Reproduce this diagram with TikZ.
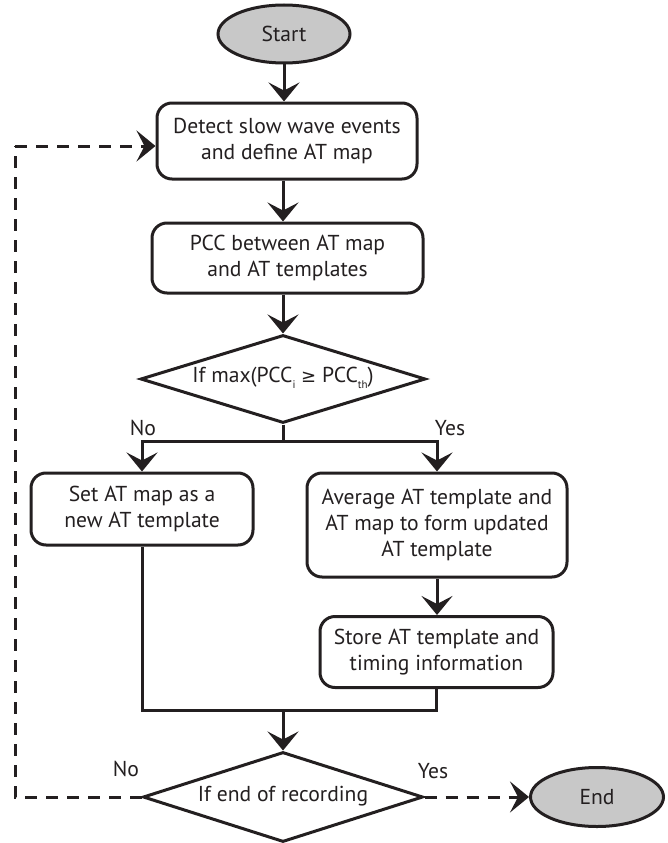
\documentclass[tikz,border=0pt]{standalone}
\usepackage{fontspec}
\setmainfont{PT Sans}
\newfontfamily\symf{DejaVu Sans}
\usetikzlibrary{arrows.meta,shapes.geometric}
\definecolor{termgray}{RGB}{200,200,200}
\definecolor{ink}{RGB}{35,31,32}
\begin{document}
\begin{tikzpicture}[x=1pt,y=-1pt,
  every node/.style={font=\fontsize{21.6}{26}\selectfont, align=center, inner sep=0pt, text=ink},
  proc/.style={draw=ink, line width=3pt, rounded corners=15pt, rectangle},
  term/.style={draw=ink, line width=3pt, ellipse, fill=termgray},
  decide/.style={draw=ink, line width=3pt, diamond},
  conn/.style={draw=ink, line width=3pt},
  arr/.style={conn, -{Stealth[length=19pt, width=31pt, inset=8pt]}},
  darr/.style={arr, dash pattern=on 12pt off 9pt},
  dline/.style={conn, dash pattern=on 12pt off 9pt}]
\useasboundingbox (0,0) rectangle (667,843);

\node[term, minimum width=132pt, minimum height=58pt] (start) at (284,34) {Start};
\node[proc, minimum width=260pt, minimum height=76pt] (detect) at (287,141) {Detect slow wave events\\and define AT map};
\node[proc, minimum width=271pt, minimum height=70pt] (pcc) at (287.5,258) {PCC between AT map\\and AT templates};
\node[decide, minimum width=285pt, minimum height=88pt] (d1) at (283,379) {};
\node (d1t) at (283,378) {If max(PCC\raisebox{-6pt}{\fontsize{11}{11}\selectfont i} {\symf\fontsize{18}{20}\selectfont ≥} PCC\raisebox{-6pt}{\fontsize{11}{11}\selectfont th})};
\node[proc, minimum width=222pt, minimum height=72pt] (set) at (142,509) {Set AT map as a\\new AT template};
\node[proc, minimum width=260pt, minimum height=104pt] (avg) at (437,525) {Average AT template and\\AT map to form updated\\AT template};
\node[proc, minimum width=233pt, minimum height=71pt] (store) at (436.5,652) {Store AT template and\\timing information};
\node[decide, minimum width=280pt, minimum height=90pt] (d2) at (283,797) {};
\node (d2t) at (283,796) {If end of recording};
\node[term, minimum width=133pt, minimum height=59pt] (end) at (597,797) {End};

\node (no1) at (143,428) {No};
\node (yes1) at (450,428) {Yes};
\node (no2) at (126,769) {No};
\node (yes2) at (433,771) {Yes};

\coordinate (col) at (283,0);
\coordinate (split) at (283,441);
\coordinate (merge) at (283,710);
\coordinate (loop) at (15,146);

\draw[arr] (start) -- (start |- detect.north);
\draw[arr] (detect.south -| col) -- (pcc.north -| col);
\draw[arr] (pcc.south -| col) -- (d1.north);
\draw[conn] (d1.south) -- (split);
\draw[arr] (split) -| (set.north);
\draw[arr] (split) -| (avg.north);
\draw[arr] (avg.south) -- (avg.south |- store.north);
\draw[conn] (set.south) |- (store.south |- merge) -- (store.south);
\draw[arr] (merge) -- (d2.north);
\draw[darr] (d2.east) -- (end.west);
\draw[dline] (d2.west) -| (loop);
\draw[darr] (loop) -- (loop -| detect.west);
\end{tikzpicture}
\end{document}
